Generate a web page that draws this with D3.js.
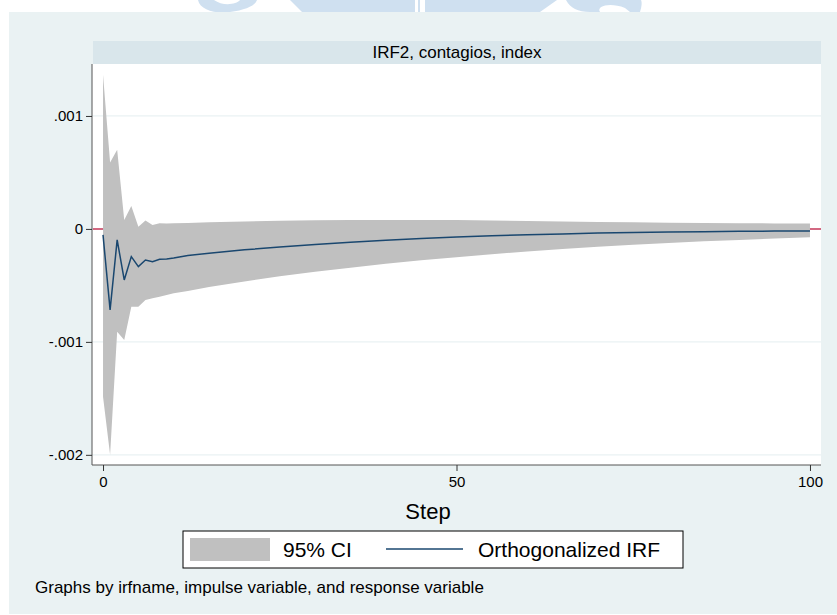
<!DOCTYPE html>
<html>
<head>
<meta charset="utf-8">
<script src="https://cdn.jsdelivr.net/npm/d3@7"></script>
<style>
  body { margin: 0; background: #fff; }
  svg { display: block; font-family: "Liberation Sans", Arial, sans-serif; }
</style>
</head>
<body>
<div id="chart-area"></div>
<script>
// data (values in units of 0.001)
const steps    = [0, 1, 2, 3, 4, 5, 6, 7, 8, 9, 10, 12, 15, 20, 25, 30, 35, 40, 45, 50, 55, 60, 65, 70, 75, 80, 85, 90, 95, 100]
const irf      = [-0.053, -0.717, -0.097, -0.452, -0.245, -0.334, -0.275, -0.29, -0.269, -0.266, -0.258, -0.235, -0.215, -0.185, -0.16, -0.138, -0.118, -0.1, -0.085, -0.072, -0.061, -0.052, -0.044, -0.037, -0.031, -0.027, -0.024, -0.021, -0.019, -0.018]
const ciUpper  = [1.364, 0.587, 0.70, 0.08, 0.204, 0.02, 0.074, 0.035, 0.05, 0.048, 0.05, 0.052, 0.058, 0.066, 0.072, 0.076, 0.079, 0.08, 0.08, 0.078, 0.075, 0.071, 0.066, 0.062, 0.058, 0.055, 0.052, 0.05, 0.049, 0.048]
const ciLower  = [-1.485, -2.0, -0.91, -0.983, -0.688, -0.688, -0.629, -0.614, -0.60, -0.585, -0.57, -0.55, -0.515, -0.465, -0.42, -0.38, -0.343, -0.308, -0.277, -0.25, -0.224, -0.2, -0.178, -0.158, -0.14, -0.124, -0.11, -0.097, -0.085, -0.074]
const xTicks = [0, 50, 100]
const yTicks = [0.001, 0, -0.001, -0.002]
const yTickLabels = [".001", "0", "-.001", "-.002"]
const panelTitle = "IRF2, contagios, index"
const legendLabels = ["95% CI", "Orthogonalized IRF"]
const note = "Graphs by irfname, impulse variable, and response variable"

const W = 837, H = 615
const PLOT = { LEFT: 92, RIGHT: 821, TOP: 64, BOTTOM: 465 }

const svg = d3.select("#chart-area").append("svg")
    .attr("width", W)
    .attr("height", H)

// watermark fragment at the top edge
const wm = svg.append("g").attr("fill", "#cfe0f0")
wm.append("path").attr("d", "M198,0 C200,10 215,14 230,12 C245,10 255,6 257,0 L240,0 C236,5 222,6 214,0 Z")
wm.append("path").attr("d", "M290,0 L302,12 L415,12 L415,0 Z")
wm.append("rect").attr("x", 418).attr("y", 0).attr("width", 2).attr("height", 12)
wm.append("path").attr("d", "M425,0 L557,0 L540,12 L425,12 Z")
wm.append("path").attr("d", "M566,0 C570,8 578,12 590,12 L600,12 C596,6 610,2 625,8 L630,12 L640,12 C642,6 642,2 641,0 Z")

// chart background
svg.append("rect")
    .attr("x", 9).attr("y", 12)
    .attr("width", W - 9).attr("height", 602)
    .attr("fill", "#eaf2f3")

// plot region + title strip
svg.append("rect")
    .attr("x", PLOT.LEFT).attr("y", PLOT.TOP)
    .attr("width", PLOT.RIGHT - PLOT.LEFT).attr("height", PLOT.BOTTOM - PLOT.TOP)
    .attr("fill", "#ffffff")
svg.append("rect")
    .attr("x", 93).attr("y", 41)
    .attr("width", PLOT.RIGHT - 93).attr("height", PLOT.TOP - 41)
    .attr("fill", "#d9e6eb")
svg.append("text")
    .attr("x", (93 + PLOT.RIGHT) / 2)
    .attr("y", 58)
    .attr("text-anchor", "middle")
    .attr("font-size", "17px")
    .attr("fill", "#000")
    .text(panelTitle)

// scales
const x = d3.scaleLinear().domain([-1.56, 101.56]).range([PLOT.LEFT, PLOT.RIGHT])
const y = d3.scaleLinear().domain([-0.00209, 0.00146]).range([PLOT.BOTTOM, PLOT.TOP])

const data = steps.map((s, i) => ({ step: s, irf: irf[i] / 1000, lo: ciLower[i] / 1000, hi: ciUpper[i] / 1000 }))

// gridlines
svg.append("g")
    .selectAll("line")
    .data(yTicks)
    .enter().append("line")
    .attr("x1", PLOT.LEFT).attr("x2", PLOT.RIGHT)
    .attr("y1", d => y(d)).attr("y2", d => y(d))
    .attr("stroke", "#eaf2f3")
    .attr("stroke-width", 1.2)

// zero reference line
svg.append("line")
    .attr("x1", PLOT.LEFT + 1).attr("x2", PLOT.RIGHT)
    .attr("y1", y(0)).attr("y2", y(0))
    .attr("stroke", "#c8385a")
    .attr("stroke-width", 1.5)

// confidence band
const area = d3.area()
    .x(d => x(d.step))
    .y0(d => y(d.lo))
    .y1(d => y(d.hi))
svg.append("path")
    .attr("d", area(data))
    .attr("fill", "#c0c0c0")

// irf line
const line = d3.line()
    .x(d => x(d.step))
    .y(d => y(d.irf))
svg.append("path")
    .attr("d", line(data))
    .attr("fill", "none")
    .attr("stroke", "#1a476f")
    .attr("stroke-width", 1.5)

// axes
const yAxisCall = d3.axisLeft(y)
    .tickValues(yTicks)
    .tickSize(6)
    .tickPadding(3)
    .tickFormat((d, i) => yTickLabels[i])
const yAxis = svg.append("g")
    .attr("transform", `translate(${PLOT.LEFT}, 0)`)
    .call(yAxisCall)
yAxis.select(".domain").attr("d", `M0,${PLOT.TOP}V${PLOT.BOTTOM}`).attr("stroke", "#555")

const xAxisCall = d3.axisBottom(x)
    .tickValues(xTicks)
    .tickSize(6)
    .tickPadding(5)
const xAxis = svg.append("g")
    .attr("transform", `translate(0, ${PLOT.BOTTOM})`)
    .call(xAxisCall)
xAxis.select(".domain").attr("d", `M${PLOT.LEFT},0H${PLOT.RIGHT}`).attr("stroke", "#555")

svg.selectAll(".tick text")
    .attr("font-size", "15px")
    .attr("font-family", "'Liberation Sans', Arial, sans-serif")
    .attr("fill", "#000")
svg.selectAll(".tick line").attr("stroke", "#333")

// x axis label
svg.append("text")
    .attr("x", 428)
    .attr("y", 519)
    .attr("text-anchor", "middle")
    .attr("font-size", "22px")
    .text("Step")

// legend
const legend = svg.append("g")
legend.append("rect")
    .attr("x", 183).attr("y", 531)
    .attr("width", 500).attr("height", 37)
    .attr("fill", "#fff")
    .attr("stroke", "#000")
    .attr("stroke-width", 1)
legend.append("rect")
    .attr("x", 190).attr("y", 538)
    .attr("width", 80).attr("height", 23)
    .attr("fill", "#c0c0c0")
legend.append("text")
    .attr("x", 283).attr("y", 557)
    .attr("font-size", "21px")
    .text(legendLabels[0])
legend.append("line")
    .attr("x1", 386).attr("x2", 463)
    .attr("y1", 549).attr("y2", 549)
    .attr("stroke", "#1a476f")
    .attr("stroke-width", 1.5)
legend.append("text")
    .attr("x", 478).attr("y", 557)
    .attr("font-size", "21px")
    .text(legendLabels[1])

// note
svg.append("text")
    .attr("x", 35).attr("y", 593)
    .attr("font-size", "17px")
    .text(note)
</script>
</body>
</html>
